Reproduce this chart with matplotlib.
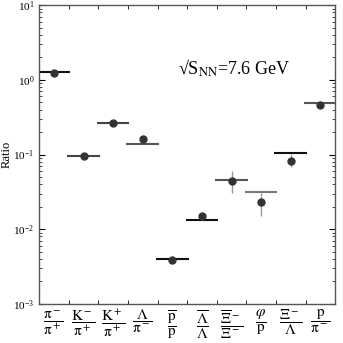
import matplotlib
matplotlib.use("Agg")
import matplotlib.pyplot as plt
import numpy as np

plt.rcParams['font.family'] = ['Liberation Serif', 'DejaVu Serif']
plt.rcParams['mathtext.fontset'] = 'stix'

# Ratio labels (numerator / denominator)
labels = [r'$\dfrac{\mathrm{\pi^-}}{\mathrm{\pi^+}}$', r'$\dfrac{\mathrm{K^-}}{\mathrm{\pi^+}}$',
          r'$\dfrac{\mathrm{K^+}}{\mathrm{\pi^+}}$', r'$\dfrac{\Lambda}{\mathrm{\pi^-}}$',
          r'$\dfrac{\overline{\mathrm{p}}}{\mathrm{p}}$',
          r'$\dfrac{\overline{\Lambda}}{\Lambda}$', r'$\dfrac{\overline{\Xi}^-}{\Xi^-}$',
          r'$\dfrac{\varphi}{\mathrm{p}}$', r'$\dfrac{\Xi^-}{\Lambda}$',
          r'$\dfrac{\mathrm{p}}{\mathrm{\pi^-}}$']

# Data points and errors
data = [1.23, 0.097, 0.265, 0.16, 0.0039, 0.0149, 0.0445, 0.0233, 0.0826, 0.457]
err_lo = [0.05, 0.004, 0.01, 0.012, 0.0003, 0.0015, 0.014, 0.0082, 0.014, 0.02]
err_hi = [0.05, 0.004, 0.01, 0.012, 0.0003, 0.0015, 0.016, 0.0077, 0.018, 0.02]

# Model values (horizontal lines)
model = [1.27, 0.095, 0.265, 0.14, 0.0040, 0.0133, 0.046, 0.0317, 0.104, 0.487]
model_colors = ['#111111', '#444444', '#444444', '#555555', '#111111',
                '#111111', '#555555', '#777777', '#111111', '#555555']

x = np.arange(len(labels)) + 0.5

fig = plt.figure(figsize=(3.43, 3.43), dpi=100)
ax = fig.add_axes([0.114, 0.114, 0.863, 0.871])

for xi, m, c in zip(x, model, model_colors):
    ax.hlines(m, xi - 0.55, xi + 0.55, color=c, linewidth=1.5, zorder=2)

ax.errorbar(x, data, yerr=[err_lo, err_hi], fmt='o', color='#333333',
            ecolor='#999999', elinewidth=1, markersize=5, capsize=0, zorder=3)

ax.text(0.47, 0.79, '√S$_{\\rm NN}$=7.6 GeV', transform=ax.transAxes,
        fontsize=13, va='center', ha='left')

ax.set_yscale('log')
ax.set_ylim(1e-3, 10)
ax.set_xlim(0, 10)
ax.set_xticks(np.arange(1, 10))
ax.set_xticklabels([])
ax.set_xticks(x, minor=True)
ax.set_xticklabels(labels, minor=True, fontsize=11)
ax.tick_params(axis='x', which='major', direction='in', top=True, length=3, width=0.6)
ax.tick_params(axis='x', which='minor', length=0, pad=3)
ax.tick_params(axis='y', which='both', direction='in', right=True, labelsize=8)
ax.tick_params(axis='y', which='major', length=4, width=0.8)
ax.tick_params(axis='y', which='minor', length=2, width=0.5)
ax.set_ylabel('Ratio', fontsize=9)
ax.yaxis.set_label_coords(-0.088, 0.5)

for s in ax.spines.values():
    s.set_color('#555555')
    s.set_linewidth(1)

fig.savefig('out.png', dpi=100)
